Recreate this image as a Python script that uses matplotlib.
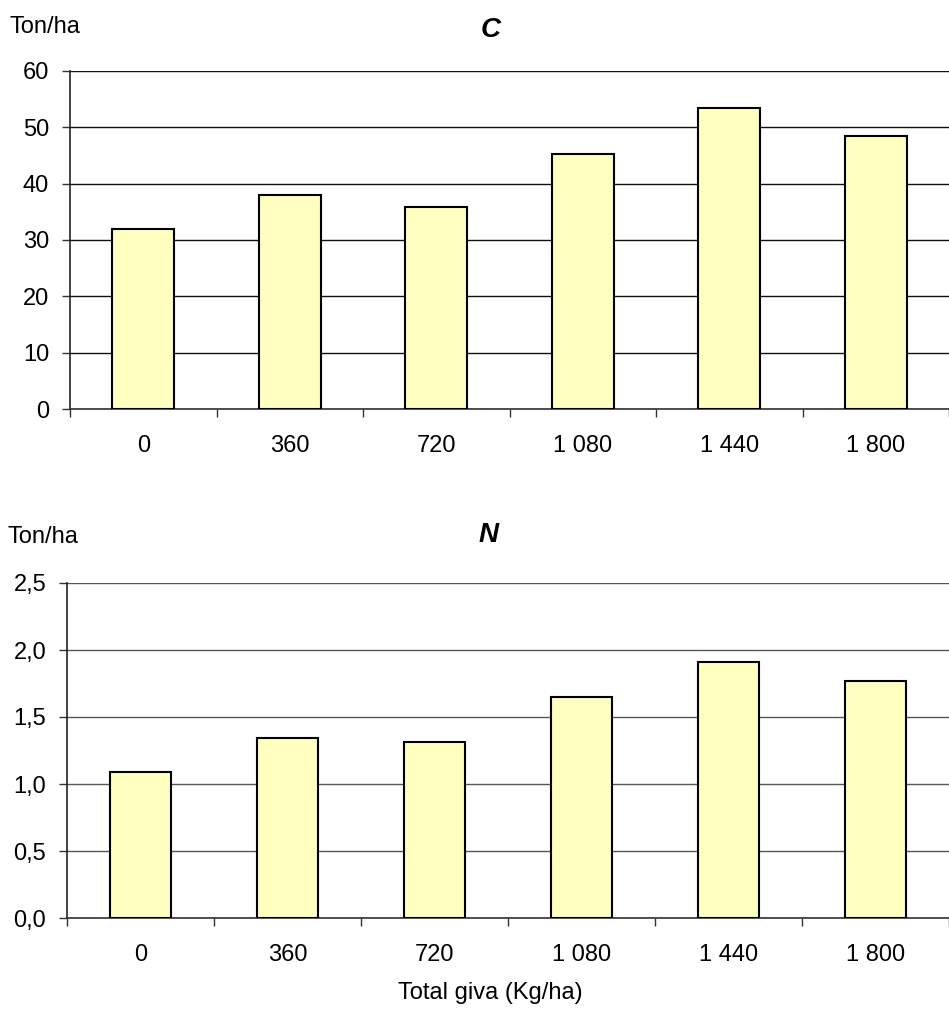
import numpy as np
import matplotlib
matplotlib.use("Agg")
import matplotlib.pyplot as plt

plt.rcParams['font.family'] = ['Liberation Sans', 'DejaVu Sans']

# Data
doses = ["0", "360", "720", "1 080", "1 440", "1 800"]
carbon = [32.0, 38.0, 35.9, 45.3, 53.5, 48.5]
nitrogen = [1.09, 1.34, 1.31, 1.65, 1.91, 1.77]
c_ticks = [0, 10, 20, 30, 40, 50, 60]
n_ticks = [0.0, 0.5, 1.0, 1.5, 2.0, 2.5]

bar_color = "#ffffc0"
fs = 17

fig = plt.figure(figsize=(9.49, 10.13), dpi=100)
ax1 = fig.add_axes([70 / 949, 1 - 409 / 1013, 879 / 949, 338 / 1013])
ax2 = fig.add_axes([67 / 949, 1 - 918 / 1013, 882 / 949, 335 / 1013])


def draw(ax, values, yticks, ylabels, title, title_y, gridcol):
    x = np.arange(len(values))
    ax.bar(x, values, width=0.42, color=bar_color, edgecolor="black",
           linewidth=1.5, zorder=3)
    ax.set_xlim(-0.5, len(values) - 0.5)
    ax.set_ylim(yticks[0], yticks[-1])
    ax.set_yticks(yticks)
    ax.set_yticklabels(ylabels, fontsize=fs)
    ax.set_xticks(x)
    ax.set_xticklabels(doses, fontsize=fs)
    ax.set_xticks(np.arange(len(values) + 1) - 0.5, minor=True)
    ax.tick_params(axis="x", which="major", length=0, pad=19)
    ax.tick_params(axis="x", which="minor", length=6, width=1, color="#333333")
    ax.tick_params(axis="y", length=6, width=1, color="#333333", pad=9)
    ax.yaxis.grid(True, color=gridcol, linewidth=1, zorder=0)
    for s in ["top", "right"]:
        ax.spines[s].set_visible(False)
    ax.spines["left"].set_color("#222222")
    ax.spines["bottom"].set_color("#333333")
    ax.spines["left"].set_linewidth(1.2)
    ax.spines["bottom"].set_linewidth(1.2)
    ax.text(0.478, title_y, title, transform=ax.transAxes, fontsize=20,
            fontweight="bold", fontstyle="italic", ha="center", va="center")


draw(ax1, carbon, c_ticks, [str(t) for t in c_ticks], "C", 1.12, "#111111")
draw(ax2, nitrogen, n_ticks, [f"{t:.1f}".replace(".", ",") for t in n_ticks],
     "N", 1.143, "#555555")

fig.text(10 / 949, 1 - 27 / 1013, "Ton/ha", fontsize=fs, va="center")
fig.text(8 / 949, 1 - 537 / 1013, "Ton/ha", fontsize=fs, va="center")
fig.text(490 / 949, 1 - 993 / 1013, "Total giva (Kg/ha)", fontsize=fs,
         ha="center", va="center")

fig.savefig("out.png", dpi=100)
